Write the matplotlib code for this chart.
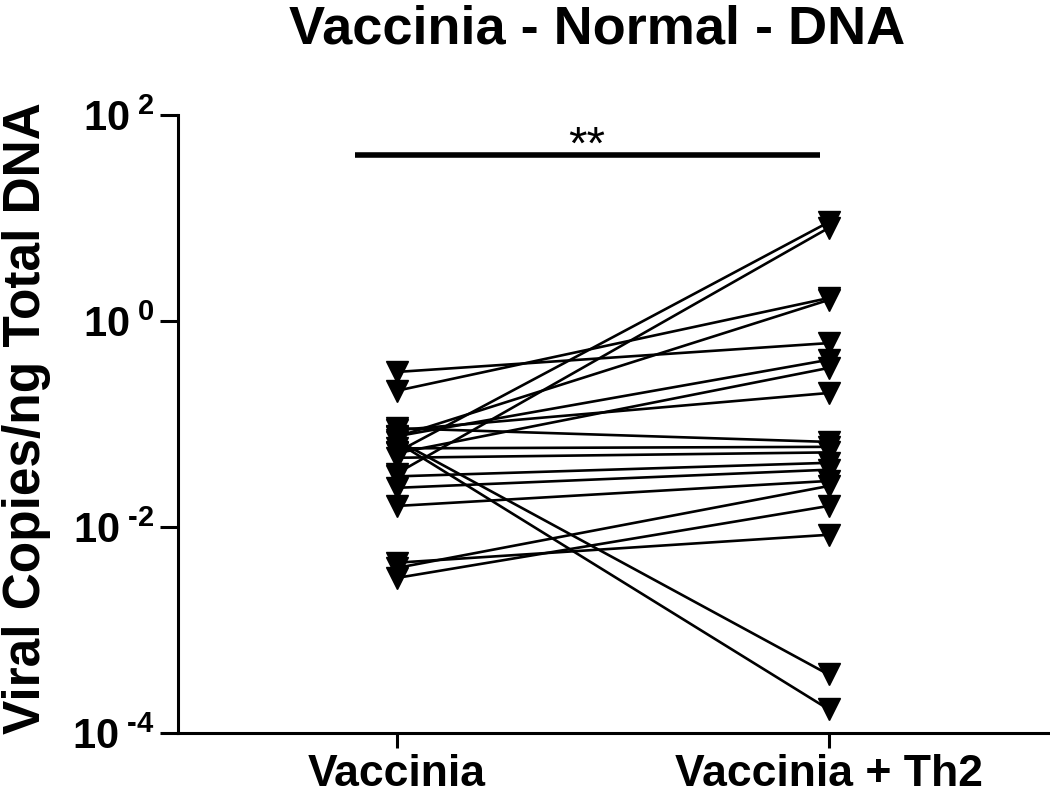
import numpy as np
import matplotlib
matplotlib.use("Agg")
import matplotlib.pyplot as plt
from matplotlib.ticker import FixedLocator, FuncFormatter, NullLocator

plt.rcParams['font.family'] = ['Liberation Sans', 'DejaVu Sans']
plt.rcParams['mathtext.fontset'] = 'custom'
plt.rcParams['mathtext.rm'] = 'Liberation Sans:bold'
plt.rcParams['mathtext.bf'] = 'Liberation Sans:bold'

groups = ["Vaccinia", "Vaccinia + Th2"]

# paired values, one entry per sample
vaccinia = [0.32, 0.21, 0.053, 0.033, 0.075, 0.076, 0.052, 0.087, 0.070, 0.067,
            0.091, 0.058, 0.047, 0.031, 0.024, 0.016, 0.0040, 0.0032, 0.0045]
vaccinia_th2 = [0.61, 1.67, 9.1, 8.0, 1.6, 0.42, 0.35, 0.20, 0.00037, 0.00017,
                0.067, 0.060, 0.053, 0.042, 0.036, 0.028, 0.025, 0.016, 0.0084]

yticks = [1e-4, 1e-2, 1e0, 1e2]


def fmt(v, p):
    e = int(round(np.log10(v)))
    if e < 0:
        return r'$10^{\;\text{-}%d}$' % -e
    return r'$10^{\;%d}$' % e


fig = plt.figure(figsize=(10.5, 7.97), dpi=100)
ax = fig.add_axes([178/1050, 64/797, 870/1050, 618/797])

for a, b in zip(vaccinia, vaccinia_th2):
    ax.plot([0, 1], [a, b], color='black', lw=1.9, marker='v', ms=16,
            markerfacecolor='black', markeredgecolor='black', zorder=3)

ax.set_yscale('log')
ax.set_ylim(1e-4, 1e2)
ax.set_xlim(-0.506, 1.508)
ax.yaxis.set_major_locator(FixedLocator(yticks))
ax.yaxis.set_minor_locator(NullLocator())
ax.yaxis.set_major_formatter(FuncFormatter(fmt))
ax.set_xticks([0, 1])
ax.set_xticklabels(groups, fontsize=32, fontweight='bold')

for s in ['top', 'right']:
    ax.spines[s].set_visible(False)
for s in ['left', 'bottom']:
    ax.spines[s].set_linewidth(2.2)
ax.tick_params(axis='y', length=13, width=2.2, labelsize=30, pad=4)
ax.tick_params(axis='x', length=11, width=2.2, pad=4)

# significance bar
ax.plot([-0.097, 0.98], [41, 41], color='black', lw=4, solid_capstyle='butt',
        clip_on=False)
ax.text(0.44, 49, '**', ha='center', va='center', fontsize=34)

fig.text(597/1050, 1 - 30/797, 'Vaccinia - Normal - DNA', ha='center',
         va='center', fontsize=39, fontweight='bold')
fig.text(27/1050, 1 - 418/797, 'Viral Copies/ng Total DNA', ha='center',
         va='center', rotation=90, fontsize=37, fontweight='bold')

fig.savefig('out.png', dpi=100)
